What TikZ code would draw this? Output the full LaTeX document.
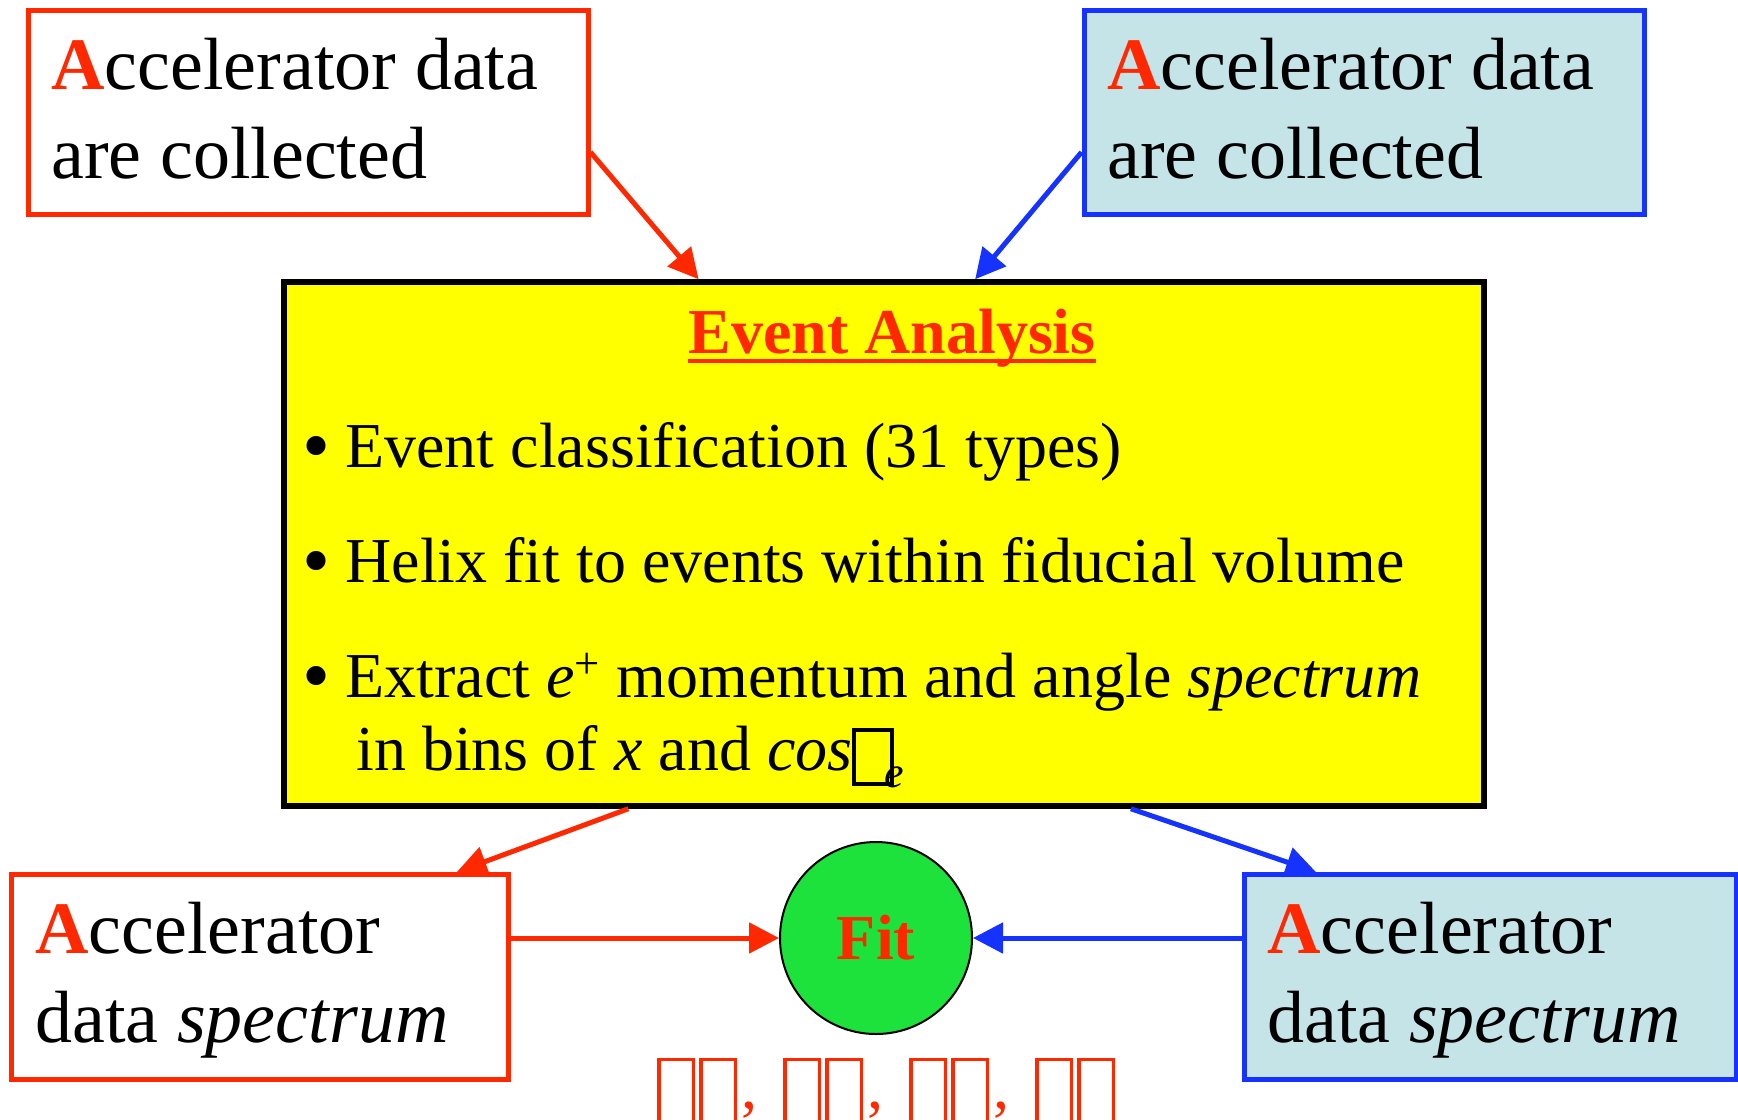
\documentclass[tikz,border=0pt]{standalone}
\usepackage{fontspec}
\setmainfont{Liberation Serif}
\usetikzlibrary{arrows.meta}
\definecolor{redc}{RGB}{255,40,0}
\definecolor{bluec}{RGB}{22,50,255}
\definecolor{lblue}{RGB}{197,228,232}
\definecolor{yel}{RGB}{255,255,0}
\definecolor{grn}{RGB}{30,226,60}
\newcommand\nogl[4]{\raisebox{#3}{\setlength\fboxsep{0pt}\setlength\fboxrule{#4}\fbox{\rule{#1}{0pt}\rule{0pt}{#2}}}}
\newcommand\rowglyph{\nogl{15.8pt}{29.3pt}{-6pt}{1.6pt}\hspace{2pt}}
\newcommand\bigA{\textcolor{redc}{\textbf{A}}}
\newcommand\bul{\makebox[21.5pt][l]{\raisebox{-2.7pt}{\scalebox{1.25}{•}}}}
\begin{document}
\begin{tikzpicture}[x=0.5pt,y=-0.5pt,
  box/.style={draw, line width=2.5pt, inner sep=0pt},
  big/.style={font=\fontsize{37}{44.5}\selectfont, inner sep=0pt, anchor=base west},
  mid/.style={font=\fontsize{32}{38}\selectfont, inner sep=0pt, anchor=base west},
  arr/.style={line width=2.5pt, -{Triangle[length=15pt,width=15pt]}}]
\fill[white] (0,0) rectangle (1738,1119);
\useasboundingbox (0,0) rectangle (1738,1119);
% boxes
\node[box, draw=redc, fill=white, minimum width=280pt, minimum height=102pt] (tl) at (308,112.5) {};
\node[box, draw=bluec, fill=lblue, minimum width=280pt, minimum height=102pt] (tr) at (1364,112.5) {};
\node[box, draw=black, line width=2.75pt, fill=yel, minimum width=600pt, minimum height=262pt] (ev) at (884,544) {};
\node[box, draw=redc, fill=white, minimum width=248.25pt, minimum height=102.25pt] (bl) at (259.75,976.75) {};
\node[box, draw=bluec, fill=lblue, minimum width=245.75pt, minimum height=102.25pt] (br) at (1490.25,976.75) {};
\node[circle, draw=black, line width=1pt, fill=grn, minimum size=96pt, inner sep=0pt, text=redc, font=\fontsize{32}{38}\selectfont\bfseries] (fit) at (876,938) {Fit};
% texts
\node[big] (tl1) at (51,89) {\bigA ccelerator data};
\node[big] (tl2) at (51,178) {are collected};
\node[big] (tr1) at (1107,89) {\bigA ccelerator data};
\node[big] (tr2) at (1107,178) {are collected};
\node[big] (bl1) at (35,953) {\bigA ccelerator};
\node[big] (bl2) at (35,1042) {data \textit{spectrum}};
\node[big] (br1) at (1267,953) {\bigA ccelerator};
\node[big] (br2) at (1267,1042) {data \textit{spectrum}};
\node[inner sep=0pt, anchor=base, text=redc, font=\fontsize{32}{38}\selectfont\bfseries] (title) at (892,353) {Event Analysis};
\draw[redc, line width=2pt] ([yshift=-4pt]title.base west) -- ([yshift=-4pt]title.base east);
\node[mid] (b1) at (302,467) {\bul Event classification (31 types)};
\node[mid] (b2) at (302,582) {\bul Helix fit to events within fiducial volume};
\node[mid] (b3) at (302,697) {\bul Extract \textit{e}\textsuperscript{+} momentum and angle \textit{spectrum}};
\node[mid] (b4) at (356,770) {in bins of \textit{x} and \textit{cos}\nogl{17pt}{25pt}{-6pt}{2pt}\kern-5pt\raisebox{-8.5pt}{\fontsize{22}{22}\selectfont\textit{e}}};
\node[mid, text=redc] (row) at (657,1108) {\rowglyph\rowglyph,\hspace{13pt}\rowglyph\rowglyph,\hspace{13pt}\rowglyph\rowglyph,\hspace{13pt}\rowglyph\rowglyph};
% arrows
\draw[arr, redc] (tl.-8.2) -- (ev.125.2);
\draw[arr, bluec] (tr.188.2) -- (ev.71.2);
\draw[arr, redc] (ev.226.3) -- (bl.28.6);
\draw[arr, bluec] (ev.313.5) -- (br.149.3);
\draw[arr, redc] (bl.east |- fit.west) -- (fit.west);
\draw[arr, bluec] (br.west |- fit.east) -- (fit.east);
\end{tikzpicture}
\end{document}
